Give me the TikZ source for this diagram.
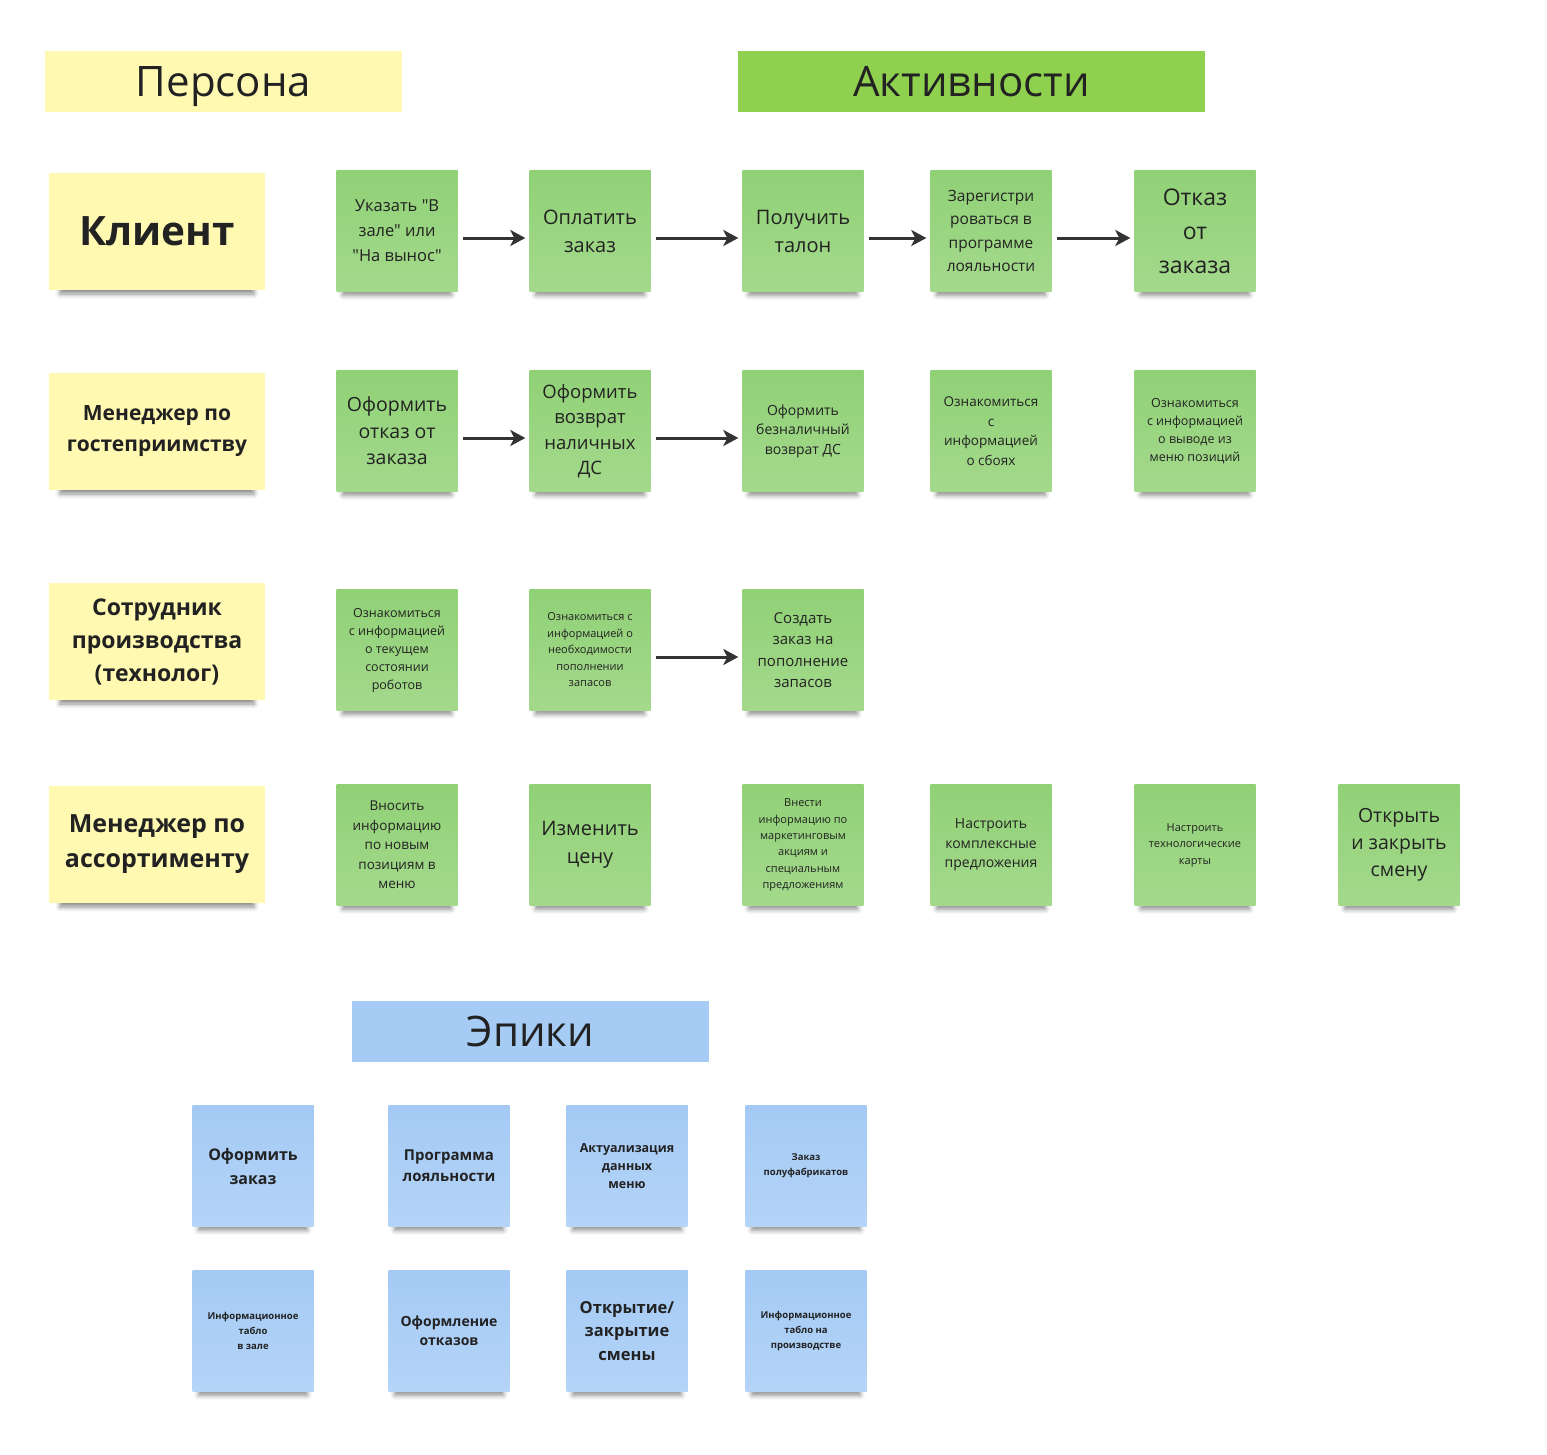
\documentclass[tikz,border=0pt]{standalone}
\usepackage{fontspec}
\setmainfont{Open Sans}[Ligatures=TeXOff]
\usetikzlibrary{arrows.meta,shadows.blur,positioning}
\definecolor{yellowColor}{RGB}{255,249,177}
\definecolor{greenColor}{RGB}{143,209,79}
\definecolor{blueColor}{RGB}{166,204,245}
\definecolor{greenTop}{RGB}{144,209,118}
\definecolor{greenBottom}{RGB}{164,217,140}
\definecolor{blueTop}{RGB}{164,202,244}
\definecolor{blueBottom}{RGB}{180,212,248}
\definecolor{textColor}{RGB}{34,34,34}
\definecolor{arrowColor}{RGB}{51,51,51}
\newcommand{\fsz}[2]{\fontsize{#1}{#2}\selectfont}
\tikzset{header/.style={minimum height=61pt, inner sep=0pt, text=textColor, font=\fsz{42}{48}, text height=30pt, text depth=0pt}}
\tikzset{sticky/.style={minimum width=121pt, minimum height=121pt, inner sep=0pt, align=center, text=textColor, blur shadow={shadow xshift=0pt, shadow yshift=-11pt, shadow scale=.9, shadow opacity=45, shadow blur radius=5pt}}}
\tikzset{persona/.style={sticky, fill=yellowColor, minimum width=216pt, minimum height=117pt}}
\tikzset{activity/.style={sticky, top color=greenTop, bottom color=greenBottom}}
\tikzset{epic/.style={sticky, top color=blueTop, bottom color=blueBottom}}
\tikzstyle{flow} = [arrowColor, line width=3pt, -{Stealth[length=15pt, width=16pt, inset=4pt]}]

\begin{document}
\begin{tikzpicture}[x=1pt, y=-1pt]
	\useasboundingbox (0,0) rectangle (1547,1454);
	% Headers
	\node (personaHead) [header, fill=yellowColor, minimum width=357pt] at (223.5,81.5) {Персона};
	\node (activityHead) [header, fill=greenColor, minimum width=467pt] at (971.5,81.5) {Активности};
	\node (epicHead) [header, fill=blueColor, minimum width=357pt] at (530.5,1031.5) {Эпики};

	% Personas
	\node (client) [persona, font=\bfseries\fsz{40.5}{48}] at (157,231.5) {Клиент};
	\node (hostManager) [persona, font=\bfseries\fsz{21}{31}] at (157,431.5) {Менеджер по\\ гостеприимству};
	\node (technologist) [persona, font=\bfseries\fsz{23}{33}] at (157,641.5) {Сотрудник\\ производства\\ (технолог)};
	\node (rangeManager) [persona, font=\bfseries\fsz{25}{35}] at (157,844.5) {Менеджер по\\ ассортименту};

	% Activities: client
	\node (chooseHall) [activity, font=\fsz{16.5}{25}] at (397,231) {Указать "В\\ зале" или\\ "На вынос"};
	\node (payOrder) [activity, font=\fsz{20}{28}] at (590,231) {Оплатить\\ заказ};
	\node (getTicket) [activity, font=\fsz{20}{28}] at (803,231) {Получить\\ талон};
	\node (register) [activity, font=\fsz{15.5}{23.5}] at (991,231) {Зарегистри\\ роваться в\\ программе\\ лояльности};
	\node (refuseOrder) [activity, font=\fsz{23}{34}] at (1195,231) {Отказ\\ от\\ заказа};

	% Activities: host manager
	\node (makeRefusal) [activity, font=\fsz{19.5}{26.5}] at (397,431) {Оформить\\ отказ от\\ заказа};
	\node (cashReturn) [activity, font=\fsz{18.5}{25.5}] at (590,431) {Оформить\\ возврат\\ наличных\\ ДС};
	\node (cardReturn) [activity, font=\fsz{14}{19.5}] at (803,431) {Оформить\\ безналичный\\ возврат ДС};
	\node (failInfo) [activity, font=\fsz{13.5}{19.5}] at (991,431) {Ознакомиться\\ с\\ информацией\\ о сбоях};
	\node (menuInfo) [activity, font=\fsz{12.5}{18}] at (1195,431) {Ознакомиться\\ с информацией\\ о выводе из\\ меню позиций};

	% Activities: technologist
	\node (robotInfo) [activity, font=\fsz{12.5}{18}] at (397,650) {Ознакомиться\\ с информацией\\ о текущем\\ состоянии\\ роботов};
	\node (stockInfo) [activity, font=\fsz{11}{16.5}] at (590,650) {Ознакомиться с\\ информацией о\\ необходимости\\ пополнении\\ запасов};
	\node (stockOrder) [activity, font=\fsz{15}{21.5}] at (803,650) {Создать\\ заказ на\\ пополнение\\ запасов};

	% Activities: range manager
	\node (newItems) [activity, font=\fsz{13.5}{19.5}] at (397,845) {Вносить\\ информацию\\ по новым\\ позициям в\\ меню};
	\node (changePrice) [activity, font=\fsz{20}{28}] at (590,845) {Изменить\\ цену};
	\node (promoInfo) [activity, font=\fsz{11}{16.3}] at (803,845) {Внести\\ информацию по\\ маркетинговым\\ акциям и\\ специальным\\ предложениям};
	\node (combos) [activity, font=\fsz{14}{19.5}] at (991,845) {Настроить\\ комплексные\\ предложения};
	\node (techCards) [activity, font=\fsz{11}{16.5}] at (1195,845) {Настроить\\ технологические\\ карты};
	\node (shift) [activity, font=\fsz{19.5}{27}] at (1399,845) {Открыть\\ и закрыть\\ смену};

	% Epics
	\node (epicOrder) [epic, font=\bfseries\fsz{16}{24}] at (253,1166) {Оформить\\ заказ};
	\node (epicLoyalty) [epic, font=\bfseries\fsz{15}{21}] at (449,1166) {Программа\\ лояльности};
	\node (epicMenu) [epic, font=\bfseries\fsz{12.5}{18}] at (627,1166) {Актуализация\\ данных\\ меню};
	\node (epicSemi) [epic, font=\bfseries\fsz{9.5}{15}] at (806,1166) {Заказ\\ полуфабрикатов};
	\node (epicHallBoard) [epic, font=\bfseries\fsz{9.5}{15}] at (253,1331) {Информационное\\ табло\\ в зале};
	\node (epicRefusals) [epic, font=\bfseries\fsz{14}{19}] at (449,1331) {Оформление\\ отказов};
	\node (epicShift) [epic, font=\bfseries\fsz{16.5}{23.5}] at (627,1331) {Открытие/\\ закрытие\\ смены};
	\node (epicProdBoard) [epic, font=\bfseries\fsz{9.5}{15}] at (806,1331) {Информационное\\ табло на\\ производстве};

	% Connectors
	\begin{scope}[shorten <=5pt, shorten >=4pt]
	\draw [flow] ([yshift=-7pt]chooseHall.east) -- ([yshift=-7pt]payOrder.west);
	\draw [flow] ([yshift=-7pt]payOrder.east) -- ([yshift=-7pt]getTicket.west);
	\draw [flow] ([yshift=-7pt]getTicket.east) -- ([yshift=-7pt]register.west);
	\draw [flow] ([yshift=-7pt]register.east) -- ([yshift=-7pt]refuseOrder.west);
	\draw [flow] ([yshift=-7pt]makeRefusal.east) -- ([yshift=-7pt]cashReturn.west);
	\draw [flow] ([yshift=-7pt]cashReturn.east) -- ([yshift=-7pt]cardReturn.west);
	\draw [flow] ([yshift=-7pt]stockInfo.east) -- ([yshift=-7pt]stockOrder.west);
	\end{scope}
\end{tikzpicture}
\end{document}
